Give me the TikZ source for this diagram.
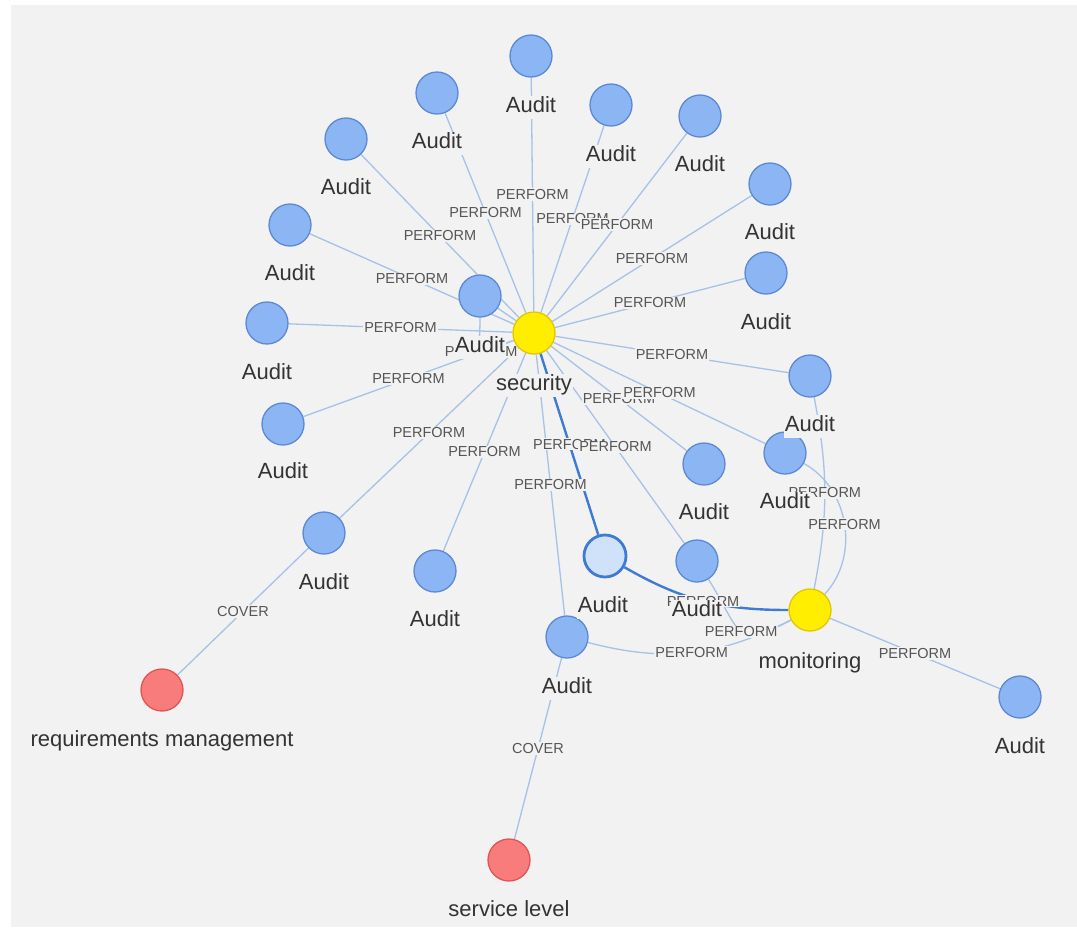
\documentclass[tikz,border=0pt]{standalone}
\usepackage{fontspec}
\setmainfont{Liberation Sans}

\definecolor{panelgray}{HTML}{F2F2F2}
\definecolor{edgeblue}{HTML}{A6C2E8}
\definecolor{hotblue}{HTML}{3F7BD4}
\definecolor{auditfill}{HTML}{8CB5F3}
\definecolor{auditline}{HTML}{5C89D4}
\definecolor{selfill}{HTML}{D0E2FA}
\definecolor{hubfill}{HTML}{FFEE00}
\definecolor{hubline}{HTML}{E3C600}
\definecolor{reqfill}{HTML}{F87C7C}
\definecolor{reqline}{HTML}{E05454}
\definecolor{labeltext}{HTML}{333333}
\definecolor{reltext}{HTML}{555555}

\pgfdeclarelayer{panel}
\pgfdeclarelayer{links}
\pgfdeclarelayer{linktext}
\pgfsetlayers{panel,links,linktext,main}

\begin{document}
\begin{tikzpicture}[x=1pt,y=-1pt,
  dot/.style={circle, minimum size=42pt, inner sep=0pt, line width=1.3pt},
  audit/.style={dot, fill=auditfill, draw=auditline},
  chosen/.style={dot, fill=selfill, draw=hotblue, line width=2.8pt},
  hub/.style={dot, fill=hubfill, draw=hubline},
  req/.style={dot, fill=reqfill, draw=reqline},
  link/.style={draw=edgeblue, line width=1.3pt},
  hot/.style={draw=hotblue, line width=2.4pt},
  etext/.style={font=\fontsize{14.5}{16}\selectfont, text=reltext, fill=panelgray, inner sep=1pt},
  ntext/.style={font=\fontsize{22}{26}\selectfont, text=labeltext, fill=panelgray,
    inner sep=1pt, text height=16pt, text depth=5pt}]
\useasboundingbox (0,0) rectangle (1077,930);
\begin{pgfonlayer}{panel}
  \fill[panelgray] (11,5) rectangle (1077,927);
\end{pgfonlayer}

% hubs and categories
\node[hub] (sec) at (534,333) {};
\node[hub] (mon) at (810,610) {};
\node[req] (rm) at (162,690) {};
\node[req] (sl) at (509,860) {};

% audit nodes
\node[audit] (a1) at (531,56) {};
\node[audit] (a2) at (437,93) {};
\node[audit] (a3) at (611,105) {};
\node[audit] (a4) at (346,139) {};
\node[audit] (a5) at (700,116) {};
\node[audit] (a6) at (770,184) {};
\node[audit] (a7) at (290,225) {};
\node[audit] (a8) at (766,273) {};
\node[audit] (a9) at (480,296) {};
\node[audit] (a10) at (267,323) {};
\node[audit] (a11) at (810,376) {};
\node[audit] (a12) at (283,424) {};
\node[audit] (a13) at (704,464) {};
\node[audit] (a14) at (785,453) {};
\node[audit] (a15) at (324,533) {};
\node[audit] (a16) at (435,571) {};
\node[chosen] (a17) at (605,556) {};
\node[audit] (a18) at (697,561) {};
\node[audit] (a19) at (567,637) {};
\node[audit] (a20) at (1020,697) {};

% relationships
\begin{pgfonlayer}{links}
  \foreach \n in {1,2,3,4,5,6,7,8,10,11,12,13,14,15,16,18,19}
    \draw[link] (sec) -- coordinate (m\n) (a\n);
  \draw[link] (sec) -- (a9);
  \draw[link] (a9) to[out=-90,in=200,looseness=2.8] coordinate (m9) (sec);
  \draw[hot] (sec) -- coordinate (m17) (a17);
  \draw[link] (a11) to[bend left=11] coordinate (q11) (mon);
  \draw[link] (a14) to[bend left=52] coordinate (q14) (mon);
  \draw[hot] (a17) to[out=-30,in=180] coordinate (q17) (mon);
  \draw[link] (a18) to[out=-58,in=208,looseness=1.8] coordinate (q18) (mon);
  \draw[link] (a19) to[bend right=21] coordinate (q19) (mon);
  \draw[link] (mon) -- coordinate (q20) (a20);
  \draw[link] (a15) -- coordinate (c1) (rm);
  \draw[link] (a19) -- coordinate (c2) (sl);
\end{pgfonlayer}

% relationship captions
\begin{pgfonlayer}{linktext}
  \foreach \n in {1,2,3,4,5,6,7,8,9,10,11,12,13,14,15,16,17,18,19}
    \node[etext] (pm\n) at (m\n) {PERFORM};
  \foreach \n in {11,14,17,18,19,20}
    \node[etext] (pq\n) at (q\n) {PERFORM};
  \node[etext] (pc1) at (c1) {COVER};
  \node[etext] (pc2) at (c2) {COVER};
\end{pgfonlayer}

% node captions
\node[ntext] (t1) at (531,107) {Audit};
\node[ntext] (t2) at (437,143) {Audit};
\node[ntext] (t3) at (611,156) {Audit};
\node[ntext] (t4) at (346,189) {Audit};
\node[ntext] (t5) at (700,166) {Audit};
\node[ntext] (t6) at (770,234) {Audit};
\node[ntext] (t7) at (290,275) {Audit};
\node[ntext] (t8) at (766,324) {Audit};
\node[ntext] (t9) at (480,347) {Audit};
\node[ntext] (t10) at (267,374) {Audit};
\node[ntext] (t11) at (810,426) {Audit};
\node[ntext] (t12) at (283,473) {Audit};
\node[ntext] (t13) at (704,514) {Audit};
\node[ntext] (t14) at (785,503) {Audit};
\node[ntext] (t15) at (324,584) {Audit};
\node[ntext] (t16) at (435,621) {Audit};
\node[ntext] (t17) at (603,607) {Audit};
\node[ntext] (t18) at (697,611) {Audit};
\node[ntext] (t19) at (567,688) {Audit};
\node[ntext] (t20) at (1020,748) {Audit};
\node[ntext] (tsec) at (534,385) {security};
\node[ntext] (tmon) at (810,663) {monitoring};
\node[ntext] (trm) at (162,741) {requirements management};
\node[ntext] (tsl) at (509,911) {service level};
\end{tikzpicture}
\end{document}
